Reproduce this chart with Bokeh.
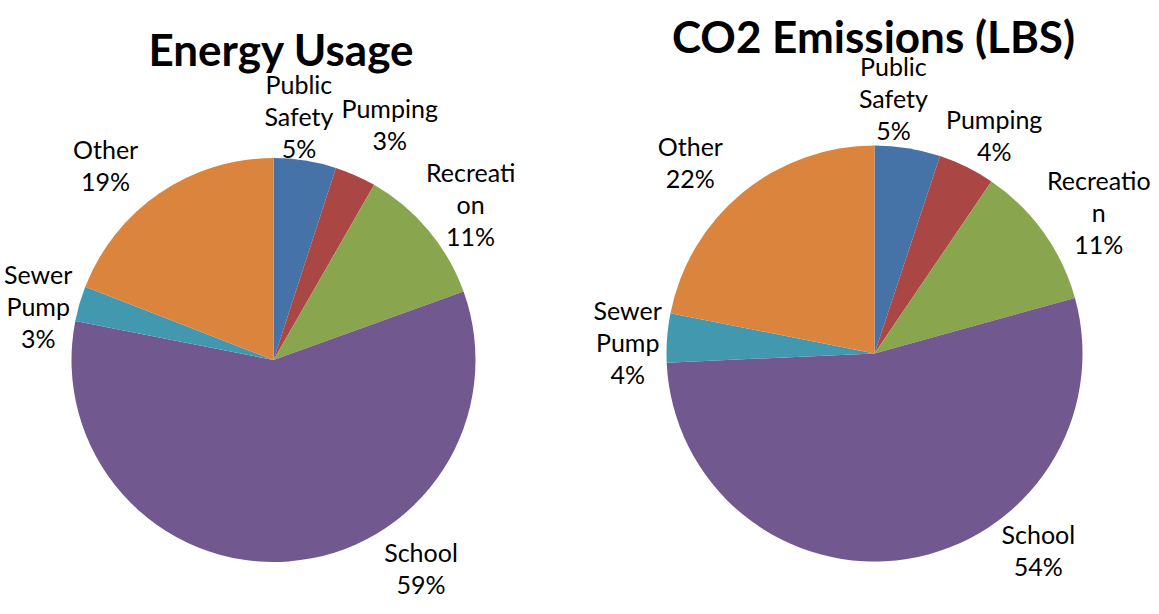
import math
from bokeh.plotting import figure
from bokeh.models import Range1d, ColumnDataSource
from bokeh.core.properties import value
from bokeh.embed import file_html
from bokeh.resources import INLINE

# ---- data ----
categories = ["Public Safety", "Pumping", "Recreation", "School", "Sewer Pump", "Other"]
energy_usage = [5.0, 3.3, 11.2, 58.6, 2.8, 19.1]
co2_emissions = [5.1, 4.4, 11.2, 53.6, 3.8, 21.9]
energy_title = "Energy Usage"
co2_title = "CO2 Emissions (LBS)"
# category names as wrapped in each chart's labels
energy_name_lines = [["Public", "Safety"], ["Pumping"], ["Recreati", "on"], ["School"], ["Sewer", "Pump"], ["Other"]]
co2_name_lines = [["Public", "Safety"], ["Pumping"], ["Recreatio", "n"], ["School"], ["Sewer", "Pump"], ["Other"]]

# ---- style / layout ----
colors = ["#4572A7", "#AA4643", "#89A54E", "#71588F", "#4198AF", "#DB843D"]
W, H = 1151, 606
FONT = "Lato"
LABEL_SIZE = "25px"
LINE_STEP = 32
LABEL_RAISE = 2
charts = [
    dict(vals=energy_usage, names=energy_name_lines, title=energy_title, cx=273, cy=254.5, r=202,
         title_x=281, title_y=566,
         shift=[-3, 2.5, 2, -30.7, -3.7, -6.6], dist=[243, 261, 250, 257, 241, 256]),
    dict(vals=co2_emissions, names=co2_name_lines, title=co2_title, cx=874, cy=261, r=208,
         title_x=873, title_y=579,
         shift=[-4.9, 2.7, 3.8, -30.6, -2, -4.8], dist=[254, 247, 264, 257, 247, 264]),
]

p = figure(width=W, height=H, output_backend="svg", toolbar_location=None,
           x_range=Range1d(0, W), y_range=Range1d(614 - H, 614),
           min_border=0, min_border_left=0, min_border_right=0,
           min_border_top=0, min_border_bottom=0)
p.axis.visible = False
p.grid.visible = False
p.outline_line_color = None
p.background_fill_color = "white"
p.border_fill_color = "white"

for ch in charts:
    vals = ch["vals"]
    total = sum(vals)
    cum = [0.0]
    for v in vals:
        cum.append(cum[-1] + v)
    # clockwise from 12 o'clock
    th0 = [c / total * 2 * math.pi for c in cum[:-1]]
    th1 = [c / total * 2 * math.pi for c in cum[1:]]
    src = ColumnDataSource(dict(
        x=[ch["cx"]] * len(vals), y=[ch["cy"]] * len(vals),
        start=[math.pi / 2 - b for b in th1], end=[math.pi / 2 - a for a in th0],
        color=colors, cat=categories))
    p.wedge(x="x", y="y", radius=ch["r"], start_angle="start", end_angle="end",
            direction="anticlock", fill_color="color", line_color=None, source=src)

    # labels
    lx, ly, lt = [], [], []
    for i, v in enumerate(vals):
        mid = (th0[i] + th1[i]) / 2 + math.radians(ch["shift"][i])
        bx = ch["cx"] + ch["dist"][i] * math.sin(mid)
        by = ch["cy"] + ch["dist"][i] * math.cos(mid) + LABEL_RAISE
        lines = ch["names"][i] + [f"{round(v / total * 100)}%"]
        n = len(lines)
        for j, t in enumerate(lines):
            lx.append(bx)
            ly.append(by + (n - 1) / 2 * LINE_STEP - j * LINE_STEP)
            lt.append(t)
    p.text(x=lx, y=ly, text=lt, text_align="center", text_baseline="middle",
           text_font=value(FONT), text_font_size=LABEL_SIZE, text_color="#000000")
    p.text(x=[ch["title_x"]], y=[ch["title_y"]], text=[ch["title"]], text_align="center",
           text_baseline="alphabetic", text_font=value(FONT), text_font_style="bold",
           text_font_size="44px", text_color="#000000")

open("out.html", "w").write(file_html(p, INLINE))
